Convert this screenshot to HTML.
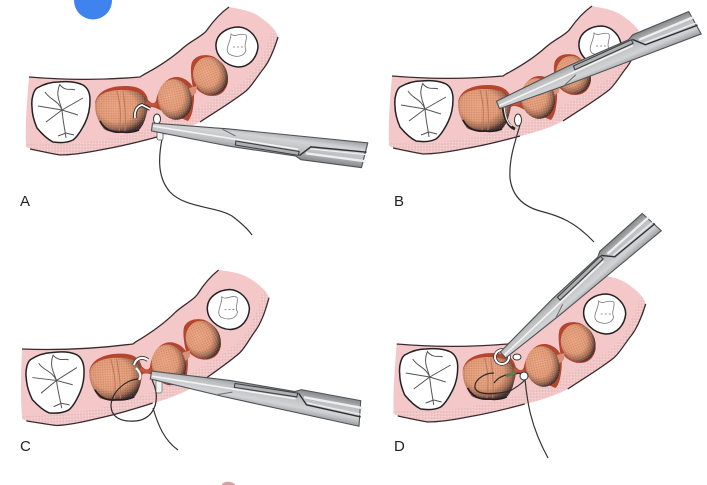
<!DOCTYPE html>
<html><head><meta charset="utf-8">
<style>
html,body{margin:0;padding:0;background:#fff;width:707px;height:485px;overflow:hidden}
svg{display:block}
text{font-family:"Liberation Sans",sans-serif;font-size:15px;fill:#222}
</style></head><body>
<svg width="707" height="485" viewBox="0 0 707 485" xmlns="http://www.w3.org/2000/svg">
<defs>
<pattern id="dots" width="3" height="3" patternUnits="userSpaceOnUse">
<rect width="3" height="3" fill="#f2c6c7"/><circle cx="1" cy="1" r=".55" fill="#d3aeb0"/><circle cx="2.4" cy="2.4" r=".45" fill="#f9e8e8"/>
</pattern>
<pattern id="sp" width="2.4" height="2.4" patternUnits="userSpaceOnUse">
<circle cx=".7" cy=".7" r=".45" fill="#a8552f" opacity=".5"/><circle cx="1.9" cy="1.8" r=".4" fill="#f6c8a6" opacity=".55"/>
</pattern>
<radialGradient id="sh" cx=".42" cy=".38" r=".66">
<stop offset="0" stop-color="#e9a583"/><stop offset=".55" stop-color="#df9a78"/><stop offset=".78" stop-color="#9c6a54"/><stop offset=".95" stop-color="#33272a"/>
</radialGradient>
<linearGradient id="steel" x1="0" y1="0" x2="0" y2="1">
<stop offset="0" stop-color="#9a9c9f"/><stop offset=".3" stop-color="#d2d3d5"/><stop offset=".65" stop-color="#bdbfc1"/><stop offset="1" stop-color="#85878a"/>
</linearGradient>
<clipPath id="gc"><path d="M29 77C65 80 105 80 140 77L143 75C160 66 172 58 183 48C192 40 203 36 207 30C214 20 222 12 229 7C240 9 252 11 260 17C270 24 276 30 278 37C274 50 270 60 264 68C256 78 252 86 246 91C232 102 215 112 200 122C185 130 170 134 157 137C135 143 118 147 100 150C85 153 72 155 60 155C48 153 35 150 26 147C25 125 27 100 29 77Z"/></clipPath>
<g id="base">
<path d="M29 77C65 80 105 80 140 77L143 75C160 66 172 58 183 48C192 40 203 36 207 30C214 20 222 12 229 7C240 9 252 11 260 17C270 24 276 30 278 37C274 50 270 60 264 68C256 78 252 86 246 91C232 102 215 112 200 122C185 130 170 134 157 137C135 143 118 147 100 150C85 153 72 155 60 155C48 153 35 150 26 147C25 125 27 100 29 77Z" fill="#f4c8c8"/>
<g clip-path="url(#gc)">
<path d="M20 148C60 154 110 148 157 132C190 120 225 102 250 84C262 74 272 50 278 32" fill="none" stroke="url(#dots)" stroke-width="12"/>
</g>
<path d="M29 77C65 80 105 80 140 77L143 75C160 66 172 58 183 48C192 40 203 36 207 30C214 20 222 12 229 7" fill="none" stroke="#3a2a2c" stroke-width="1.3"/>
<path d="M278 37C274 50 270 60 264 68C256 78 252 86 246 91C232 102 215 112 200 122M157 137C135 143 118 147 100 150C85 153 72 155 60 155C48 153 35 150 30 149" fill="none" stroke="#3a2a2c" stroke-width="1.3"/>
<!-- molar -->
<path d="M32 107C31 98 34 90 37 88C44 84 50 82 58 82C68 81 77 82 83 85C88 88 90 94 90 100C90 110 88 117 85 123C81 131 77 137 73 140C67 143 60 143 53 142C47 139 42 134 37 128C34 121 32 114 32 107Z" fill="#fff" stroke="#222" stroke-width="1.5"/>
<path d="M60 84C55 95 60 102 62 110L38 106M62 110L46 122M62 110C63 122 65 130 66 138M62 110L83 98M62 110L78 115M60 85C66 92 72 88 75 90M62 110C58 100 50 100 45 92M66 133L58 136M66 133L74 135" fill="none" stroke="#555" stroke-width="1"/>
<!-- red rim -->
<path d="M95 103C97 92 108 86 125 86C138 86 146 90 148 100C152 104 154 104 156 101C158 90 165 76 178 77C186 78 192 84 193 88C191 78 190 68 192 62C196 55 204 54 212 56C222 60 228 72 228 82C226 92 220 96 212 96C205 96 199 92 196 88C194 92 194 96 194 100C193 110 192 116 188 121L160 110C155 107 150 106 148 108C146 120 140 130 130 132L105 130Z" fill="#b5452d"/>
<!-- preps -->
<ellipse cx="210.5" cy="76" rx="17" ry="19.5" transform="rotate(-24 210.5 76)" fill="url(#sh)"/>
<ellipse cx="210.5" cy="76" rx="17" ry="19.5" transform="rotate(-24 210.5 76)" fill="url(#sp)"/>
<path d="M189 88L197 86L196 93L191 97Z" fill="#d9917a"/>
<ellipse cx="175" cy="99.5" rx="17" ry="20.5" transform="rotate(-12 175 99.5)" fill="url(#sh)"/>
<ellipse cx="175" cy="99.5" rx="17" ry="20.5" transform="rotate(-12 175 99.5)" fill="url(#sp)"/>
<path d="M95 106C95 95 106 90 122 90C136 90 146 94 147 102C148 112 145 124 139 130C128 134 112 134 104 129C99 123 95 114 95 106Z" fill="url(#sh)"/>
<path d="M95 106C95 95 106 90 122 90C136 90 146 94 147 102C148 112 145 124 139 130C128 134 112 134 104 129C99 123 95 114 95 106Z" fill="url(#sp)"/>
<path d="M100 121C104 129 112 133 121 132C128 133 134 132 139 130" fill="none" stroke="#241b1d" stroke-width="1.6"/>
<path d="M117 91C121 105 121 120 119 131M123 91C125 105 126 120 125 131" fill="none" stroke="#b9775c" stroke-width="1"/>
<path d="M146 102C150 105 153 106 157 104" fill="none" stroke="#c2553c" stroke-width="3"/>
<!-- white tooth -->
<path d="M216 44C217 33 228 27 239 27C250 28 258 38 258 47C257 57 250 67 238 67C226 66 215 56 216 44Z" fill="#fff" stroke="#222" stroke-width="1.5"/>
<path d="M231 34C235 38 240 32 246 35C248 39 243 45 246 50C244 57 236 58 229 54C224 49 231 42 231 34Z" fill="none" stroke="#777" stroke-width=".8"/>
<path d="M233 47L244 47" stroke="#777" stroke-width=".8" stroke-dasharray="2 2"/>
</g>
<g id="forceps">
<path d="M0 -4L75 -8L216 -12.5L213 13L152 13L146 10L80 9L0 4Z" fill="url(#steel)" stroke="#505255" stroke-width="1.1"/>
<path d="M1 -1L78 1L148 3" fill="none" stroke="#f3f3f3" stroke-width="1.6"/>
<path d="M85 3L149 5L149 9L85 7Z" fill="#aeb0b2" stroke="#3f4144" stroke-width="1.1"/>
<path d="M150 9L160 -1L216 -3" fill="none" stroke="#2f3134" stroke-width="1.4"/>
<path d="M160 1L216 -.5" stroke="#eeeeee" stroke-width="1.2"/>
<path d="M156 6L216 6" fill="none" stroke="#eeeeee" stroke-width="2.4"/>
<path d="M70 -7L84 -2" fill="none" stroke="#6a6c6f" stroke-width="1"/>
</g>
</defs>
<rect width="707" height="485" fill="#fff"/>
<circle cx="93" cy="0.5" r="19" fill="#3f83ef"/>

<!-- A -->
<use href="#base"/>
<path d="M135 118C134 110 138 106 142 105L150 109" fill="none" stroke="#222" stroke-width="3.5"/>
<path d="M135 118C134 110 138 106 142 105L150 109" fill="none" stroke="#fff" stroke-width="1.8"/>
<path d="M162 139C158 160 158 178 170 192C185 208 215 206 232 216C240 222 247 228 252 235" fill="none" stroke="#333" stroke-width="1.2"/>
<ellipse cx="157" cy="119" rx="3.5" ry="5" fill="#fff" stroke="#333" stroke-width="1"/>
<rect x="157" y="128" width="6" height="12" rx="2" fill="#f4f4f4" stroke="#555" stroke-width=".8"/>
<use href="#forceps" transform="translate(152 127) rotate(7.5)"/>
<text x="20" y="206">A</text>

<!-- B -->
<use href="#base" transform="translate(363 -1)"/>
<path d="M520 125C514 145 509 160 510 178C512 195 522 206 540 211C560 216 575 222 594 242" fill="none" stroke="#333" stroke-width="1.2"/>
<ellipse cx="518" cy="120" rx="3.5" ry="6" fill="#fff" stroke="#333" stroke-width="1"/>
<path d="M503 105C504 118 508 126 515 129" fill="none" stroke="#222" stroke-width="3"/>
<path d="M504 106C505 117 508 124 512 126" fill="none" stroke="#eee" stroke-width="1.2"/>
<use href="#forceps" transform="translate(498 105) rotate(-22.6) scale(.995 -1)"/>
<text x="394" y="206">B</text>

<!-- C -->
<use href="#base" transform="translate(-7 272) rotate(-2.6 29 77)"/>
<path d="M138 379C125 380 112 392 111 405C111 418 122 422 135 421C150 420 158 408 156 392C155 386 153 382 152 380" fill="none" stroke="#2a2a2a" stroke-width="1.2"/>
<path d="M153 408C158 425 164 440 178 450" fill="none" stroke="#333" stroke-width="1.2"/>
<path d="M134 365C136 358 142 356 148 360" fill="none" stroke="#444" stroke-width="4"/>
<path d="M134 365C136 358 142 356 148 360" fill="none" stroke="#fff" stroke-width="2"/>
<path d="M136 368C140 372 142 376 139 380" fill="none" stroke="#fff" stroke-width="2"/>
<rect x="156" y="380" width="6" height="13" rx="2" fill="#eef3f3" stroke="#666" stroke-width=".7"/>
<use href="#forceps" transform="translate(151 375) rotate(10.5) scale(.99 -1)"/>
<text x="20" y="451">C</text>

<!-- D -->
<use href="#base" transform="translate(367.7 267)"/>
<path d="M494 373C484 373 474 380 475 388C478 396 496 394 510 391C520 385 530 378 525 374C515 372 500 374 494 383" fill="none" stroke="#2d2d2d" stroke-width="1.2"/>
<path d="M506 376L516 372" stroke="#5f7d55" stroke-width="3"/>
<path d="M525 379C527 400 530 425 548 458" fill="none" stroke="#333" stroke-width="1.2"/>
<circle cx="502" cy="357" r="7" fill="none" stroke="#333" stroke-width="3.5"/>
<circle cx="502" cy="357" r="7" fill="none" stroke="#fff" stroke-width="2"/>
<ellipse cx="524" cy="376" rx="4" ry="4" fill="#fff" stroke="#333" stroke-width="1"/>
<ellipse cx="517" cy="357" rx="4" ry="3" fill="#fff" stroke="#333" stroke-width="1"/>
<use href="#forceps" transform="translate(503 355) rotate(-41.7) scale(.93 -1)"/>
<text x="394" y="451">D</text>

<path d="M222 484C225 481 230 481 235 484L235 485L222 485Z" fill="#d9a0a0"/>
</svg>
</body></html>
